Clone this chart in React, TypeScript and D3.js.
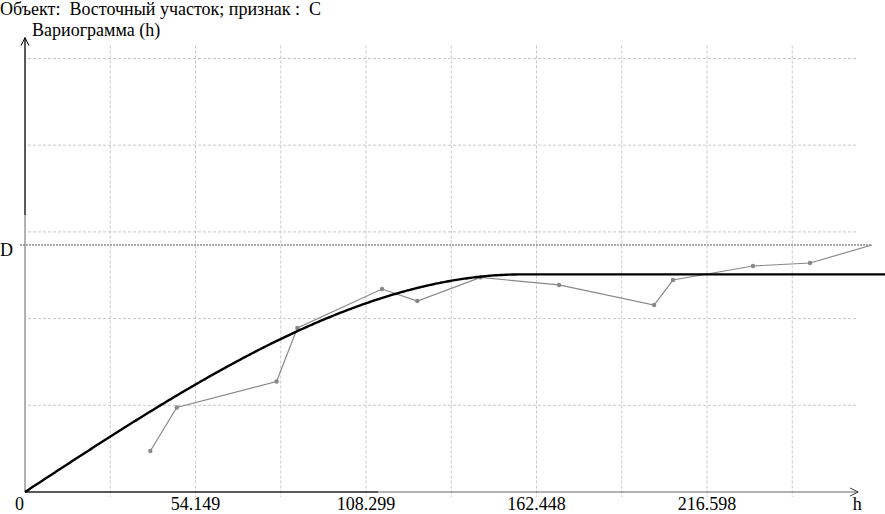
import React from "react";
import * as d3 from "d3";

const title = "Объект:  Восточный участок; признак :  C";
const yAxisLabel = "Вариограмма (h)";
const xAxisLabel = "h";
const dLabel = "D";

const xTickValues = [0, 54.149, 108.299, 162.448, 216.598];
const xTickLabels = ["0", "54.149", "108.299", "162.448", "216.598"];
const xGridValues = [27.0745, 54.149, 81.2235, 108.299, 135.3735, 162.448, 189.5225, 216.598, 243.6725];
const yGridValues = [1, 2, 3, 4, 5];

// experimental variogram
const lagH = [39.8, 48.2, 79.9, 86.5, 113.4, 124.6, 144.7, 169.6, 199.8, 205.8, 231.2, 249.3];
const gammaExp = [0.473, 0.975, 1.275, 1.892, 2.341, 2.203, 2.475, 2.388, 2.157, 2.445, 2.607, 2.641];
const tailH = 269.0;
const dValue = 2.849;

// spherical model
const nugget = 0;
const sill = 2.51;
const range = 158;
const modelMaxH = 274.5;

const W = 885;
const H = 514;

export default function App() {
  const x = d3.scaleLinear().domain([0, 54.149]).range([25, 195.5]);
  const y = d3.scaleLinear().domain([0, 5]).range([492, 58.5]);

  const model = (h: number) =>
    h >= range ? nugget + sill : nugget + sill * (1.5 * (h / range) - 0.5 * Math.pow(h / range, 3));
  const hs = d3.range(0, modelMaxH + 0.5, 0.5);
  const modelLine = d3
    .line<number>()
    .x((h) => x(h))
    .y((h) => y(model(h)));

  const expPts: [number, number][] = lagH.map((h, i) => [h, gammaExp[i]]);
  const expLine = d3
    .line<[number, number]>()
    .x((d) => x(d[0]))
    .y((d) => y(d[1]));

  const x0 = x(0);
  const y0 = y(0);
  const xEnd = x(264.6);
  const yTop = y(5.24);
  const ts: React.CSSProperties = {
    fontFamily: "'Liberation Serif', 'DejaVu Serif', 'Times New Roman', serif",
    fontSize: "18px",
    whiteSpace: "pre",
  };

  return (
    <svg width={W} height={H} style={{ position: "absolute", left: 0, top: 0, background: "#fff" }}>
      <rect width={W} height={H} fill="#fff" />
      {/* grid */}
      {xGridValues.map((v) => (
        <line key={"gx" + v} x1={x(v)} x2={x(v)} y1={y(5.15)} y2={y0 + 5} stroke="#c8c8c8" strokeDasharray="3,2" />
      ))}
      {yGridValues.map((v) => (
        <line key={"gy" + v} x1={x0 + 3} x2={x(264.2)} y1={y(v)} y2={y(v)} stroke="#c8c8c8" strokeDasharray="3,2" />
      ))}
      {/* D line */}
      <line x1={x0 - 5} x2={x(tailH)} y1={y(dValue)} y2={y(dValue)} stroke="#555" strokeDasharray="2,1" />
      <text x={0} y={y(dValue) + 11} style={ts}>
        {dLabel}
      </text>
      {/* axes */}
      <line x1={x0} x2={x0} y1={y0} y2={yTop} stroke="#666" />
      <line x1={x0} x2={x0} y1={215} y2={yTop} stroke="#000" />
      <path d={`M${x0 - 4},${yTop + 8} L${x0},${yTop} L${x0 + 4},${yTop + 8}`} fill="none" stroke="#000" />
      <line x1={x0} x2={xEnd} y1={y0} y2={y0} stroke="#666" />
      <line x1={x0} x2={378} y1={y0} y2={y0} stroke="#000" />
      <path d={`M${xEnd - 8},${y0 - 4} L${xEnd},${y0} L${xEnd - 8},${y0 + 4}`} fill="none" stroke="#333" />
      {/* x ticks */}
      {xTickValues.map((v, i) => (
        <text key={"t" + v} x={i === 0 ? x(v) - 5.5 : x(v)} y={510} style={ts} textAnchor="middle">
          {xTickLabels[i]}
        </text>
      ))}
      <text x={xEnd - 1} y={510} style={ts} textAnchor="middle">
        {xAxisLabel}
      </text>
      {/* experimental */}
      <path d={expLine([...expPts, [tailH, dValue]]) || ""} fill="none" stroke="#888" strokeWidth={1.2} />
      {expPts.map((d, i) => (
        <circle key={"p" + i} cx={x(d[0])} cy={y(d[1])} r={2.2} fill="#888" />
      ))}
      {/* model */}
      <path d={modelLine(hs) || ""} fill="none" stroke="#000" strokeWidth={2.4} />
      {/* titles */}
      <text x={0} y={15} style={ts}>
        {title}
      </text>
      <text x={32} y={36} style={ts}>
        {yAxisLabel}
      </text>
    </svg>
  );
}
